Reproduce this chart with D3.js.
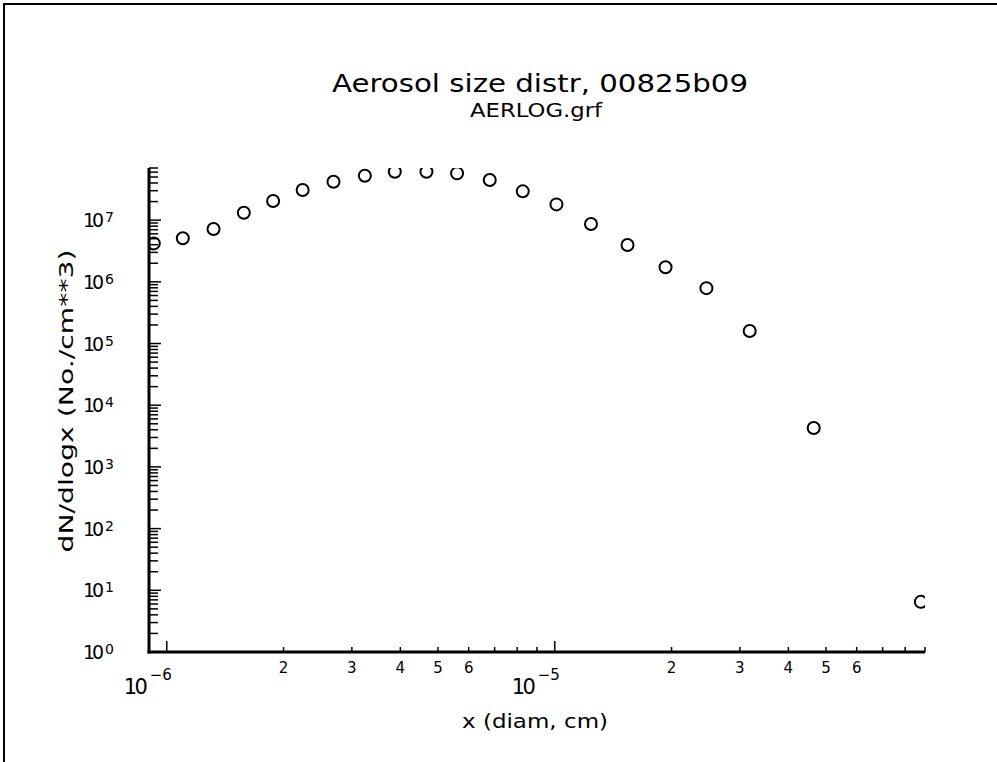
<!DOCTYPE html>
<html>
<head>
<meta charset="utf-8">
<script src="https://cdn.jsdelivr.net/npm/d3@7"></script>
<style>
  body { margin: 0; background: #fff; }
  text { font-family: "DejaVu Sans", "Liberation Sans", sans-serif; fill: #000; }
</style>
</head>
<body>
<div id="vis"></div>
<script>
// data
const diamCm = [9.26e-7, 1.10e-6, 1.32e-6, 1.58e-6, 1.88e-6, 2.24e-6, 2.69e-6, 3.24e-6,
  3.87e-6, 4.67e-6, 5.60e-6, 6.80e-6, 8.27e-6, 1.01e-5, 1.24e-5, 1.54e-5, 1.93e-5,
  2.46e-5, 3.18e-5, 4.65e-5, 8.78e-5];
const dNdlogx = [4.2e6, 5.1e6, 7.2e6, 1.32e7, 2.04e7, 3.08e7, 4.19e7, 5.24e7,
  6.1e7, 6.1e7, 5.73e7, 4.47e7, 2.93e7, 1.80e7, 8.65e6, 3.95e6, 1.72e6,
  7.9e5, 1.6e5, 4.27e3, 6.5];

const yDecades = [0, 1, 2, 3, 4, 5, 6, 7];
const xDecades = [-6, -5];
const xMinorLabels = [2, 3, 4, 5, 6];

const WIDTH = 997;
const HEIGHT = 762;
const PLOT = { left: 149, right: 925, top: 168, bottom: 652 };

const SVG = d3.select('#vis').append('svg')
  .attr('width', WIDTH)
  .attr('height', HEIGHT);

// frame (only top/left visible)
SVG.append('rect')
  .attr('x', 4).attr('y', 4)
  .attr('width', 1100).attr('height', 900)
  .attr('fill', 'none')
  .attr('stroke', '#000')
  .attr('stroke-width', 2);

const x = d3.scaleLog().domain([9e-7, 9e-5]).range([PLOT.left, PLOT.right]);
const y = d3.scaleLog().domain([1, 7e7]).range([PLOT.bottom, PLOT.top]);

// titles
SVG.append('text')
  .attr('x', 332).attr('y', 92)
  .attr('font-size', 24)
  .attr('textLength', 416)
  .attr('lengthAdjust', 'spacingAndGlyphs')
  .text('Aerosol size distr, 00825b09');

SVG.append('text')
  .attr('x', 470).attr('y', 117)
  .attr('font-size', 19)
  .attr('textLength', 132)
  .attr('lengthAdjust', 'spacingAndGlyphs')
  .text('AERLOG.grf');

// y ticks (inside, to the right)
const g = SVG.append('g');
const yTicks = [];
yDecades.forEach((d) => {
  for (let m = 1; m <= 9; m++) {
    const v = m * Math.pow(10, d);
    if (v >= 1 && v <= 7e7) yTicks.push({ v, major: m === 1 });
  }
});
g.selectAll('.ytick').data(yTicks).join('line')
  .attr('x1', PLOT.left)
  .attr('x2', (d) => PLOT.left + (d.major ? 12 : 9))
  .attr('y1', (d) => y(d.v)).attr('y2', (d) => y(d.v))
  .attr('stroke', '#000')
  .attr('stroke-width', 1.5);

// x ticks (inside, upward)
const xTicks = [];
[-7, -6, -5].forEach((d) => {
  for (let m = 1; m <= 9; m++) {
    const v = m * Math.pow(10, d);
    if (v >= 9e-7 * 0.999 && v <= 9e-5 * 1.001) xTicks.push({ v, major: m === 1 });
  }
});
g.selectAll('.xtick').data(xTicks).join('line')
  .attr('x1', (d) => x(d.v)).attr('x2', (d) => x(d.v))
  .attr('y1', PLOT.bottom)
  .attr('y2', (d) => PLOT.bottom - (d.major ? 11 : 5))
  .attr('stroke', '#000')
  .attr('stroke-width', 1.5);

// axis lines
g.append('line')
  .attr('x1', PLOT.left).attr('x2', PLOT.left)
  .attr('y1', PLOT.top).attr('y2', PLOT.bottom + 1.5)
  .attr('stroke', '#000').attr('stroke-width', 3);
g.append('line')
  .attr('x1', PLOT.left - 1.5).attr('x2', PLOT.right)
  .attr('y1', PLOT.bottom).attr('y2', PLOT.bottom)
  .attr('stroke', '#000').attr('stroke-width', 3);

// y tick labels
yDecades.forEach((d) => {
  const yy = y(Math.pow(10, d));
  g.append('text')
    .attr('x', 83).attr('y', yy + 7)
    .attr('font-size', 19)
    .attr('textLength', 21)
    .attr('lengthAdjust', 'spacing')
    .text('10');
  g.append('text')
    .attr('x', 105).attr('y', yy + 2)
    .attr('font-size', 14)
    .text(d);
});

// x decade labels
xDecades.forEach((d) => {
  const xx = x(Math.pow(10, d));
  g.append('text')
    .attr('x', xx - 43).attr('y', 694)
    .attr('font-size', 21)
    .attr('textLength', 24)
    .attr('lengthAdjust', 'spacing')
    .text('10');
  g.append('text')
    .attr('x', xx - 17).attr('y', 680)
    .attr('font-size', 15)
    .text('\u2212' + Math.abs(d));
});

// x minor labels
xDecades.forEach((d) => {
  xMinorLabels.forEach((m) => {
    g.append('text')
      .attr('x', x(m * Math.pow(10, d))).attr('y', 673)
      .attr('text-anchor', 'middle')
      .attr('font-size', 15)
      .text(m);
  });
});

// axis titles
SVG.append('text')
  .attr('transform', 'translate(73,401) rotate(-90)')
  .attr('text-anchor', 'middle')
  .attr('font-size', 19)
  .attr('textLength', 303)
  .attr('lengthAdjust', 'spacingAndGlyphs')
  .text('dN/dlogx  (No./cm**3)');

SVG.append('text')
  .attr('x', 462).attr('y', 728)
  .attr('font-size', 20)
  .attr('textLength', 146)
  .attr('lengthAdjust', 'spacingAndGlyphs')
  .text('x (diam, cm)');

// markers, clipped to plot area
SVG.append('clipPath').attr('id', 'plotclip')
  .append('rect')
  .attr('x', PLOT.left).attr('y', PLOT.top)
  .attr('width', PLOT.right - PLOT.left)
  .attr('height', PLOT.bottom - PLOT.top);

SVG.append('g').attr('clip-path', 'url(#plotclip)')
  .selectAll('circle')
  .data(diamCm.map((d, i) => [d, dNdlogx[i]]))
  .join('circle')
  .attr('cx', (d) => x(d[0]))
  .attr('cy', (d) => y(d[1]))
  .attr('r', 6)
  .attr('fill', 'none')
  .attr('stroke', '#000')
  .attr('stroke-width', 2);
</script>
</body>
</html>
